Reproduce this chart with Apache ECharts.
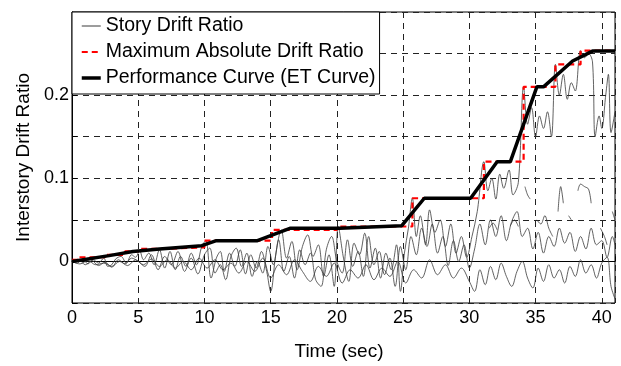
<!DOCTYPE html>
<html>
<head>
<meta charset="utf-8">
<script src="https://cdn.jsdelivr.net/npm/echarts@6/dist/echarts.min.js"></script>
<style>html,body{margin:0;padding:0;background:#fff}#c{width:621px;height:366px}</style>
</head>
<body>
<div id="c"></div>
<script>
// ---- Story drift traces ----
const timeA = [0,0.4,0.8,1.2,1.6,2.0,2.4,2.7,3.0,3.3,3.7,4.1,4.5,4.8,5.1,5.4,5.8,6.2,6.6,7.0,7.4,7.8,8.2,8.6,9.0,9.4,9.8,10.1,10.5,10.9,11.2,11.5,11.9,12.3,12.7,13.1,13.5,13.9,14.3,14.7,15.0,15.4,15.8,16.2,16.6,17.0,17.4,17.8,18.2,18.6,19.0,19.4,19.8,20.1,20.5,20.9,21.3,21.7,22.1,22.5,22.9,23.3,23.7,24.1,24.5,24.8,25.1,25.4,25.7,26.0,26.3,26.7,27.0,27.4,27.8,28.2,28.6,29.0,29.4,29.8,30.2,30.6,31.1,31.4,31.7,32.0,32.3,32.6,33.0,33.3,33.7,34.1,34.4,34.7,35.0,35.3,35.6,35.9,36.2,36.5,36.8,37.1,37.4,37.7,38.0,38.4,38.7,39.0,39.3,39.5,39.8,40.0,40.3,40.5,40.7,41.0];
const storyA = [0,-0.002,0.003,-0.003,0.002,-0.002,0.004,-0.006,-0.004,0.003,0.006,-0.002,0.008,0.005,0.013,0.002,0.010,-0.004,0.014,-0.008,0.012,-0.010,0.006,-0.006,0.010,-0.004,0.018,0.025,-0.020,0.004,0.012,-0.012,0.010,-0.006,0.014,-0.015,0.008,-0.008,0.012,-0.012,-0.036,0.010,0.038,0.004,0.024,-0.010,0.018,0.032,0.006,0.020,-0.018,0.008,-0.030,0.042,0.004,-0.024,0.022,0.008,0.034,-0.008,0.016,-0.020,0.010,-0.010,0.020,-0.036,0.010,0.040,0.076,0.030,0.055,0.020,0.062,0.035,0.050,0.018,0.045,0.010,0.030,0.005,0.030,0.060,0.120,0.085,0.100,0.075,0.105,0.088,0.110,0.080,0.095,0.210,0.165,0.185,0.150,0.175,0.160,0.180,0.150,0.237,0.200,0.225,0.195,0.215,0.205,0.2535,0.245,0.250,0.240,0.150,0.175,0.160,0.200,0.225,0.155,0.180];

const timeB = [0,0.5,1.0,1.5,2.0,2.5,3.0,3.5,4.0,4.5,5.0,5.5,6.0,6.5,7.0,7.5,8.0,8.5,9.0,9.5,10.0,10.4,10.8,11.2,11.6,12.0,12.4,12.8,13.2,13.6,14.0,14.4,14.8,15.2,15.6,16.0,16.4,16.8,17.2,17.6,18.0,18.4,18.8,19.2,19.6,20.0,20.4,20.8,21.2,21.6,22.0,22.4,22.8,23.2,23.6,24.0,24.4,24.8,25.2,25.6,26.0,26.4,26.8,27.2,27.6,28.0,28.4,28.8,29.2,29.6,30.0,30.4,30.8,31.2,31.6,32.0,32.4,32.8,33.2,33.6,34.0,34.4,34.8,35.2,35.6,36.0,36.4,36.8,37.2,37.6,38.0,38.4,38.8,39.2,39.6,40.0,40.4,40.8,41.0];
const storyB = [0,0.002,-0.004,0.001,-0.005,-0.001,-0.007,0.002,-0.003,0.004,0.000,-0.006,0.008,-0.010,0.006,-0.004,0.012,-0.012,0.004,-0.015,0.008,0.016,-0.014,-0.004,-0.022,0.006,0.016,-0.006,0.010,-0.018,0.000,-0.014,0.018,-0.004,0.026,-0.012,0.006,-0.020,0.014,-0.004,0.010,-0.022,-0.030,0.014,0.030,0.000,-0.014,0.026,-0.006,0.012,-0.018,0.030,-0.004,0.012,-0.016,0.004,-0.030,0.018,-0.010,0.030,0.008,0.040,0.018,0.045,0.010,0.030,-0.005,0.025,0.000,0.020,-0.008,0.015,0.045,0.020,0.050,0.030,0.055,0.025,0.048,0.060,0.030,0.040,0.015,0.035,0.010,0.030,0.018,0.040,0.022,0.035,0.012,0.030,0.015,0.040,0.020,0.025,0.005,0.030,0.020];

const timeC = [0,0.6,1.2,1.8,2.4,3.0,3.6,4.2,4.8,5.4,6.0,6.6,7.2,7.8,8.4,9.0,9.6,10.2,10.8,11.4,12.0,12.6,13.2,13.8,14.4,15.0,15.6,16.2,16.8,17.4,18.0,18.6,19.2,19.8,20.4,21.0,21.6,22.2,22.8,23.4,24.0,24.6,25.2,25.8,26.4,27.0,27.6,28.2,28.8,29.4,30.0,30.4,30.8,31.2,31.6,32.0,32.4,32.8,33.2,33.6,34.0,34.4,34.8,35.2,35.6,36.0,36.4,36.8,37.2,37.6,38.0,38.4,38.8,39.2,39.6,40.0,40.4,40.7,41.0];
const storyC = [0,-0.003,0.001,-0.004,-0.002,-0.006,0.000,-0.005,0.002,-0.004,0.003,-0.006,0.002,-0.008,0.000,-0.010,0.004,-0.008,0.002,-0.010,-0.002,-0.014,0.000,-0.012,0.004,-0.020,-0.004,-0.016,0.002,-0.012,-0.024,-0.006,-0.018,-0.002,-0.026,-0.010,-0.020,-0.004,-0.022,-0.008,-0.018,0.000,-0.026,-0.010,-0.020,0.002,-0.016,-0.004,-0.020,-0.008,-0.024,-0.036,-0.010,-0.028,-0.006,-0.022,-0.002,-0.018,-0.030,-0.012,0.000,-0.020,-0.032,-0.008,-0.024,-0.004,-0.020,-0.010,-0.026,-0.006,-0.018,0.002,-0.014,-0.004,-0.020,-0.002,0.005,-0.030,-0.045];

// broken trace (null = gap)
const timeD = [31.5,31.8,32.1,32.2,33.1,33.4,33.7,33.8,34.2,34.4,34.6,34.7,35.1,35.4,35.7,36.0,36.3,36.4,36.7,36.9,37.1,37.2,37.5,37.7,37.8,38.2,38.4,38.7,39.0,39.2,39.3,39.9,40.2,40.4,40.5,40.8,41.0];
const storyD = [0.040,0.046,0.038,null,0.043,0.050,0.042,null,0.090,0.080,0.075,null,0.050,0.045,0.055,0.040,0.030,null,0.060,0.090,0.070,null,0.055,0.050,null,0.085,0.093,0.090,0.087,0.070,null,0.040,0.030,0.020,null,0.060,0.050];

// ---- Maximum absolute drift ratio (step envelope) ----
const timeMax = [0,0.5,2.5,4.0,5.0,7.0,10.0,15.1,20.0,25.7,31.1,34.1,36.5,38.4,41];
const valueMax = [0.002,0.005,0.008,0.012,0.015,0.017,0.025,0.038,0.042,0.076,0.12,0.21,0.237,0.2535,0.2535];

// ---- Performance curve (ET curve) ----
const timeET = [0,2.8,4.6,6.6,9.8,10.9,14.0,16.5,20.2,24.9,26.6,30.1,32.1,33.1,35.1,35.6,37.8,39.3,41];
const valueET = [0,0.007,0.012,0.015,0.019,0.025,0.025,0.040,0.040,0.043,0.076,0.076,0.12,0.12,0.21,0.21,0.241,0.253,0.253];

const xTicks = [0,5,10,15,20,25,30,35,40];
const yTickLabels = [0,0.1,0.2];

const names = ['Story Drift Ratio','Maximum Absolute Drift Ratio','Performance Curve (ET Curve)'];
const FONT = 'Liberation Sans, Arial, Helvetica, sans-serif';

function pairs(t, v){ return t.map((x,i)=>[x, v[i]===null ? '-' : v[i]]); }

function story(t, v){
  return {name: names[0], type:'line', data: pairs(t,v), symbol:'none', showSymbol:false, smooth:0.35,
    connectNulls:false, lineStyle:{color:'#3a3a3a', width:0.8}, z:2, silent:true, animation:false};
}

const legendLines = [
  {color:'#3a3a3a', width:1, type:'solid'},
  {color:'#ff0000', width:2.2, type:[6,4]},
  {color:'#000', width:3.5, type:'solid'}
];

const chart = echarts.init(document.getElementById('c'), null, {renderer:'canvas'});
chart.setOption({
  animation:false,
  backgroundColor:'#fff',
  grid:{left:72, top:12, right:6, bottom:63, show:true, borderColor:'#000', borderWidth:1, backgroundColor:'#fff'},
  legend:{
    data:names.map((n,i)=>({name:n, itemStyle:{opacity:0}, lineStyle:legendLines[i]})), orient:'vertical', left:72, top:12,
    backgroundColor:'#fff', borderColor:'#000', borderWidth:1, borderRadius:0,
    padding:[3,4,5,8], itemWidth:19, itemHeight:14, itemGap:4,
    textStyle:{fontFamily:FONT, fontSize:19.5, color:'#000', lineHeight:22},
    selectedMode:false
  },
  xAxis:{
    type:'value', min:0, max:41, interval:5,
    name:'Time (sec)', nameLocation:'middle', nameGap:39,
    nameTextStyle:{fontFamily:FONT, fontSize:19, color:'#000', padding:[0,9,0,0]},
    axisLine:{show:true, lineStyle:{color:'#000', width:1}},
    axisTick:{show:true, inside:true, length:5, lineStyle:{color:'#000'}},
    axisLabel:{fontFamily:FONT, fontSize:18, color:'#000', margin:6,
      formatter:function(v){ return xTicks.indexOf(Math.round(v))>=0 && Math.abs(v-Math.round(v))<1e-6 ? String(Math.round(v)) : ''; }},
    splitLine:{show:true, lineStyle:{color:'#222', width:1, type:[6,5]}}
  },
  yAxis:{
    type:'value', min:-0.05, max:0.3, interval:0.05,
    name:'Interstory Drift Ratio', nameLocation:'middle', nameGap:39,
    nameTextStyle:{fontFamily:FONT, fontSize:19, color:'#000'},
    axisLine:{show:true, lineStyle:{color:'#000', width:1}},
    axisTick:{show:true, inside:true, length:5, lineStyle:{color:'#000'}},
    axisLabel:{fontFamily:FONT, fontSize:18, color:'#000', margin:3,
      formatter:function(v){ for (const t of yTickLabels){ if (Math.abs(v-t)<1e-9) return String(t); } return ''; }},
    splitLine:{show:true, lineStyle:{color:'#222', width:1, type:[6,5]}}
  },
  series:[
    story(timeA, storyA),
    story(timeB, storyB),
    story(timeC, storyC),
    story(timeD, storyD),
    {name:names[1], type:'line', step:'end', data:pairs(timeMax,valueMax), symbol:'none', showSymbol:false,
     lineStyle:{color:'#ff0000', width:2.2, type:[6,4]}, z:3, silent:true},
    {name:names[2], type:'line', data:pairs(timeET,valueET), symbol:'none', showSymbol:false,
     lineStyle:{color:'#000', width:3.5}, z:4, silent:true}
  ]
});
</script>
</body>
</html>
